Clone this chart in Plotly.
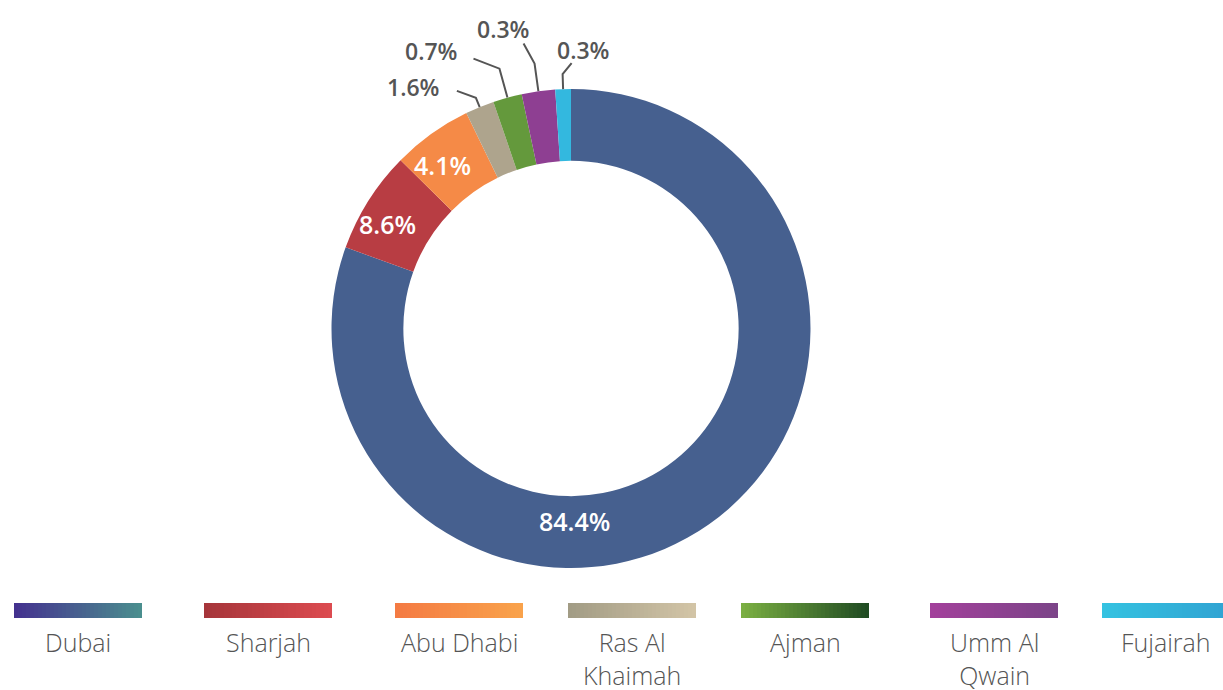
import math
import plotly.graph_objects as go

# ---------------- data ----------------
emirates = ["Dubai", "Sharjah", "Abu Dhabi", "Ras Al Khaimah", "Ajman", "Umm Al Qwain", "Fujairah"]
legend_text = ["Dubai", "Sharjah", "Abu Dhabi", "Ras Al<br>Khaimah", "Ajman", "Umm Al<br>Qwain", "Fujairah"]
printed_pct = [84.4, 8.6, 4.1, 1.6, 0.7, 0.3, 0.3]          # percentages printed on the chart
slice_share = [80.5, 6.9, 5.4, 1.95, 1.95, 2.25, 1.05]      # slice sizes as drawn in the picture

# ---------------- styling ----------------
slice_colors = ["#46608f", "#b83d43", "#f58a47", "#aea48d", "#64993c", "#8e3f92", "#33b8df"]
grad_start = ["#44318f", "#a5353a", "#f47a43", "#a19b84", "#7bb042", "#a3409b", "#34c3e1"]
grad_end = ["#4a8f8e", "#dd4b50", "#f9a34b", "#d3c5a7", "#1f4a22", "#7b4488", "#30a2d2"]
label_inside = [True, True, True, False, False, False, False]
label_angle_override = [179, None, None, None, None, None, None]
label_angle_shift = [0, -2.5, -2.5, 0, 0, 0, 0]
label_radius = [193, 211, 208, None, None, None, None]
elbow_ext = [0, 0, 0, 10, 30, 28, 15]                        # leader elbow beyond ring (px)
leader_end = [None, None, None, (-19, -7), (-26, -10), (-11, -20), (9, -11)]
label_off = [None, None, None, (-44, -4), (-42, -8), (-21, -14), (11, -13)]
legend_left = [14, 204, 395, 568, 741, 930, 1102]
BAR_W, BAR_TOP, BAR_BOT = 128, 603, 618

W, H = 1223, 690
CX, CY, R = 571, 328.5, 239.5
HOLE = 0.70
FONT = "Open Sans"
GREY = "#555555"


def px(x):
    return x / W


def py(y):
    return 1 - y / H


def polar(theta_deg, r):
    t = math.radians(theta_deg)
    return CX + r * math.sin(t), CY - r * math.cos(t)


def hex2rgb(h):
    h = h.lstrip("#")
    return tuple(int(h[i:i + 2], 16) for i in (0, 2, 4))


def mix(a, b, t):
    ca, cb = hex2rgb(a), hex2rgb(b)
    return "rgb(%d,%d,%d)" % tuple(round(ca[i] + (cb[i] - ca[i]) * t) for i in range(3))


fig = go.Figure()
fig.add_trace(go.Pie(
    labels=emirates,
    values=slice_share,
    sort=False,
    direction="clockwise",
    rotation=0,
    hole=HOLE,
    textinfo="none",
    marker=dict(colors=slice_colors, line=dict(width=0)),
    domain=dict(x=[px(CX - R), px(CX + R)], y=[py(CY + R), py(CY - R)]),
    showlegend=False,
    customdata=printed_pct,
    hovertemplate="%{label}: %{customdata}%<extra></extra>",
))

shapes = []
annotations = []

# slice labels
total = sum(slice_share)
cum = 0.0
for i, v in enumerate(slice_share):
    a0 = cum / total * 360
    cum += v
    a1 = cum / total * 360
    mid = (a0 + a1) / 2
    txt = "%.1f%%" % printed_pct[i]
    if label_inside[i]:
        ang = label_angle_override[i] if label_angle_override[i] is not None else mid + label_angle_shift[i]
        x, y = polar(ang, label_radius[i])
        annotations.append(dict(x=px(x), y=py(y), xref="paper", yref="paper", text=txt,
                                showarrow=False, xanchor="center", yanchor="middle",
                                font=dict(family=FONT, size=25, color="white", weight=600)))
    else:
        x0, y0 = polar(mid, R)
        x1, y1 = polar(mid, R + elbow_ext[i])
        x2, y2 = x1 + leader_end[i][0], y1 + leader_end[i][1]
        shapes.append(dict(type="path", xref="paper", yref="paper",
                           path="M %f %f L %f %f L %f %f" % (px(x0), py(y0), px(x1), py(y1), px(x2), py(y2)),
                           line=dict(color=GREY, width=2)))
        lx, ly = x2 + label_off[i][0], y2 + label_off[i][1]
        annotations.append(dict(x=px(lx), y=py(ly), xref="paper", yref="paper", text=txt,
                                showarrow=False, xanchor="center", yanchor="middle",
                                font=dict(family=FONT, size=23, color=GREY, weight=600)))

# custom legend with gradient bars
STEPS = 32
for i, name in enumerate(legend_text):
    left = legend_left[i]
    for s in range(STEPS):
        xa = left + BAR_W * s / STEPS
        xb = left + BAR_W * (s + 1) / STEPS + 0.6
        shapes.append(dict(type="rect", xref="paper", yref="paper",
                           x0=px(xa), x1=px(min(xb, left + BAR_W)), y0=py(BAR_BOT), y1=py(BAR_TOP),
                           fillcolor=mix(grad_start[i], grad_end[i], (s + 0.5) / STEPS),
                           line=dict(width=0), layer="above"))
    annotations.append(dict(x=px(left + BAR_W / 2), y=py(623), xref="paper", yref="paper",
                            text=name, showarrow=False, xanchor="center", yanchor="top",
                            font=dict(family=FONT, size=25, color=GREY, weight=300)))

fig.update_layout(
    width=W, height=H,
    margin=dict(l=0, r=0, t=0, b=0),
    paper_bgcolor="white",
    plot_bgcolor="white",
    shapes=shapes,
    annotations=annotations,
)

fig.write_html("out.html", config={"displayModeBar": False},
               post_script="document.body.style.margin='0';")
